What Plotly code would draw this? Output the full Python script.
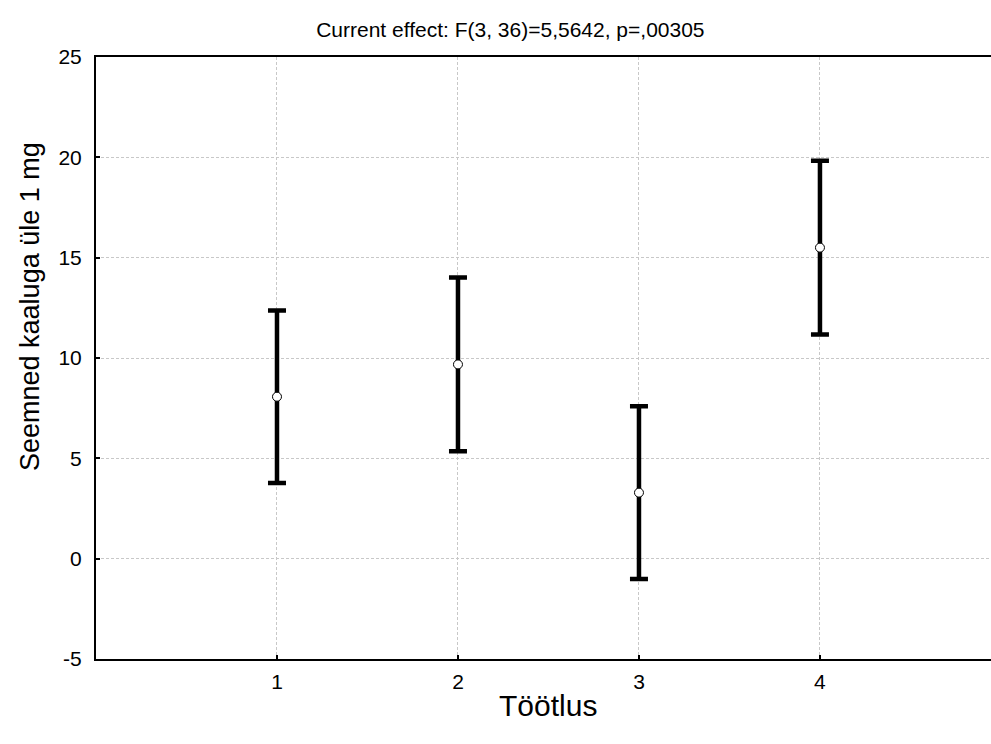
import plotly.graph_objects as go

categories = [1, 2, 3, 4]
means = [8.07, 9.68, 3.29, 15.5]
ci_half = [4.3, 4.33, 4.3, 4.33]
y_ticks = [-5, 0, 5, 10, 15, 20, 25]
x_ticks = [1, 2, 3, 4]

fig = go.Figure()
fig.add_trace(go.Scatter(
    x=categories, y=means, mode="markers",
    marker=dict(symbol="circle", size=9, color="white",
                line=dict(color="black", width=1)),
    error_y=dict(type="data", array=ci_half, visible=True,
                 color="black", thickness=4.5, width=9),
    showlegend=False,
))

font = "Liberation Sans, Arial, sans-serif"
fig.update_layout(
    width=991, height=744,
    margin=dict(l=96, r=0, t=57, b=85),
    paper_bgcolor="white", plot_bgcolor="white",
    font=dict(family=font, color="black"),
    title=dict(text="Current effect: F(3, 36)=5,5642, p=,00305",
               x=0.515, xanchor="center", y=0.96, yanchor="middle",
               font=dict(size=21, family=font, color="black")),
    annotations=[
        dict(text="Seemned kaaluga üle 1 mg", textangle=-90,
             xref="paper", yref="paper", x=-66/895, y=(659-307)/602,
             xanchor="center", yanchor="middle", showarrow=False,
             font=dict(size=27, family=font, color="black")),
        dict(text="Töötlus",
             xref="paper", yref="paper", x=0.505, y=(659-705)/602,
             xanchor="center", yanchor="middle", showarrow=False,
             font=dict(size=30, family=font, color="black")),
    ],
)
fig.update_xaxes(
    range=[0, 4.945], tickvals=x_ticks, ticktext=[str(v) for v in x_ticks],
    showline=True, linecolor="black", linewidth=2, mirror=True,
    showgrid=True, gridcolor="#c8c8c8", griddash="3px,2px", gridwidth=1,
    ticks="inside", ticklen=4, tickcolor="black", tickwidth=2,
    tickfont=dict(size=21), zeroline=False, ticklabelstandoff=3,
)
fig.update_yaxes(
    range=[-5, 25], tickvals=y_ticks, ticktext=[str(v) for v in y_ticks],
    showline=True, linecolor="black", linewidth=2, mirror=False,
    showgrid=True, gridcolor="#c8c8c8", griddash="3px,2px", gridwidth=1,
    ticks="inside", ticklen=4, tickcolor="black", tickwidth=2,
    tickfont=dict(size=21), zeroline=False, ticklabelstandoff=8,
)

fig.write_html("out.html", config={"displayModeBar": False},
               post_script="document.body.style.margin='0';document.body.style.overflow='hidden';")
